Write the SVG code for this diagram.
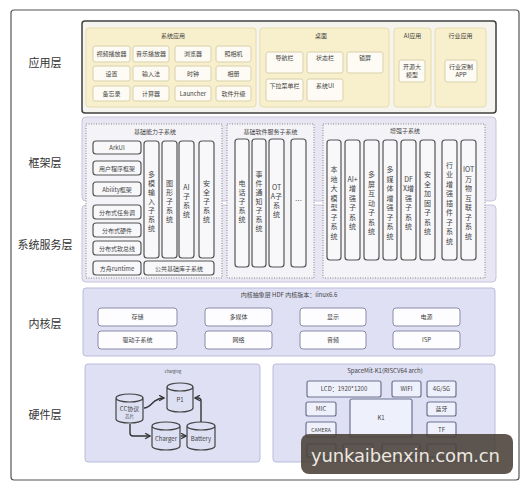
<svg xmlns="http://www.w3.org/2000/svg" width="529" height="491" viewBox="0 0 529 491">
<defs>
<style>
text{font-family:'Noto Sans CJK SC','Noto Sans',sans-serif;fill:#444;text-anchor:middle}
.lbl{font-size:11px;fill:#333}
.app{fill:#f8f0cc;stroke:#e6dcae;stroke-width:1}
.ai{fill:#fdfbf3;stroke:#d9d0ac;stroke-width:1}
.t6{font-size:6px}
.t7{font-size:7px}
.fw{fill:#e9e6f3;stroke:#c9c4dc;stroke-width:1}
.dot{fill:#f4f3f8;stroke:#888;stroke-width:1;stroke-dasharray:1 1.5}
.col{fill:#f8f8fb;stroke:#555;stroke-width:1.2}
.kp{fill:#dfe0f4;stroke:#b9bbdb;stroke-width:1}
.kb{fill:#fdfdff;stroke:#8a8ca8;stroke-width:1}
.cyl{fill:#dde0f3;stroke:#444;stroke-width:1.2}
.hb{fill:#eef0fb;stroke:#6e7290;stroke-width:1.2}
.conn{fill:none;stroke:#333;stroke-width:1.4;marker-end:url(#ah)}
</style>
<marker id="ah" viewBox="0 0 10 10" refX="8" refY="5" markerWidth="5" markerHeight="5" orient="auto"><path d="M1,1 L8,5 L1,9" fill="none" stroke="#333" stroke-width="1.8"/></marker>
</defs>
<rect x="0" y="0" width="529" height="491" fill="#ffffff"/>
<rect x="11" y="10" width="508" height="470" rx="3" fill="none" stroke="#555" stroke-width="1.2"/>

<g id="layer-labels">
<text class="lbl" x="45" y="67">应用层</text>
<text class="lbl" x="45" y="167">框架层</text>
<text class="lbl" x="45" y="249">系统服务层</text>
<text class="lbl" x="45" y="328">内核层</text>
<text class="lbl" x="45" y="419">硬件层</text>
</g>

<g id="app-layer">
<rect x="82" y="21" width="414" height="92" rx="3" fill="#f5f4ee" stroke="#3f3f3f" stroke-width="1.5"/>
<g id="sys-apps">
<rect class="app" x="86" y="28" width="170" height="79" rx="3"/>
<text class="t6" x="173" y="38">系统应用</text>
<rect class="ai" x="93" y="46" width="37" height="16" rx="2"/><text class="t6" x="111.5" y="56">视频播放器</text>
<rect class="ai" x="133" y="46" width="36" height="16" rx="2"/><text class="t6" x="151" y="56">音乐播放器</text>
<rect class="ai" x="175" y="46" width="36" height="16" rx="2"/><text class="t6" x="193" y="56">浏览器</text>
<rect class="ai" x="216" y="46" width="35" height="16" rx="2"/><text class="t6" x="233.5" y="56">照相机</text>
<rect class="ai" x="93" y="66" width="37" height="15" rx="2"/><text class="t6" x="111.5" y="75.5">设置</text>
<rect class="ai" x="133" y="66" width="36" height="15" rx="2"/><text class="t6" x="151" y="75.5">输入法</text>
<rect class="ai" x="175" y="66" width="36" height="15" rx="2"/><text class="t6" x="193" y="75.5">时钟</text>
<rect class="ai" x="216" y="66" width="35" height="15" rx="2"/><text class="t6" x="233.5" y="75.5">相册</text>
<rect class="ai" x="93" y="86" width="37" height="15" rx="2"/><text class="t6" x="111.5" y="95.5">备忘录</text>
<rect class="ai" x="133" y="86" width="36" height="15" rx="2"/><text class="t6" x="151" y="95.5">计算器</text>
<rect class="ai" x="175" y="86" width="36" height="15" rx="2"/><text class="t6" x="193" y="95.5">Launcher</text>
<rect class="ai" x="216" y="86" width="35" height="15" rx="2"/><text class="t6" x="233.5" y="95.5">软件升级</text>
</g>
<g id="desktop">
<rect class="app" x="260" y="28" width="129" height="79" rx="3"/>
<text class="t6" x="321" y="38">桌面</text>
<rect class="ai" x="266" y="52" width="37" height="21" rx="2"/><text class="t6" x="284.5" y="60">导航栏</text>
<rect class="ai" x="307" y="52" width="36" height="21" rx="2"/><text class="t6" x="325" y="60">状态栏</text>
<rect class="ai" x="347" y="52" width="36" height="21" rx="2"/><text class="t6" x="365" y="60">锁屏</text>
<rect class="ai" x="266" y="79" width="37" height="22" rx="2"/><text class="t6" x="284.5" y="88">下拉菜单栏</text>
<rect class="ai" x="307" y="79" width="36" height="22" rx="2"/><text class="t6" x="325" y="88">系统UI</text>
</g>
<g id="ai-apps">
<rect class="app" x="394" y="28" width="37" height="79" rx="3"/>
<text class="t6" x="412.5" y="38">AI应用</text>
<rect class="ai" x="399" y="60" width="26" height="22" rx="2"/>
<text class="t6" x="412" y="69">开源大</text><text class="t6" x="412" y="77">模型</text>
</g>
<g id="industry-apps">
<rect class="app" x="435" y="28" width="51" height="79" rx="3"/>
<text class="t6" x="460.5" y="38">行业应用</text>
<rect class="ai" x="445" y="60" width="32" height="22" rx="2"/>
<text class="t6" x="461" y="69">行业定制</text><text class="t6" x="461" y="77">APP</text>
</g>
</g>

<g id="framework-service">
<rect class="fw" x="82" y="117" width="414" height="84" rx="4"/>
<rect class="fw" x="82" y="205" width="414" height="77" rx="4"/>

<g id="basic-capability">
<rect class="dot" x="86" y="124" width="136" height="154"/>
<text class="t6" x="155" y="134">基础能力子系统</text>
<g class="t6">
<rect class="col" x="93" y="141" width="48" height="13" rx="3"/><text class="t6" x="117" y="150">ArkUI</text>
<rect class="col" x="93" y="161" width="48" height="14" rx="3"/><text class="t6" x="117" y="170.5">用户程序框架</text>
<rect class="col" x="93" y="182" width="48" height="14" rx="3"/><text class="t6" x="117" y="191.5">Ability框架</text>
<rect class="col" x="93" y="205" width="48" height="14" rx="3"/><text class="t6" x="117" y="214.5">分布式任务调</text>
<rect class="col" x="93" y="223" width="48" height="14" rx="3"/><text class="t6" x="117" y="232.5">分布式硬件</text>
<rect class="col" x="93" y="241" width="48" height="14" rx="3"/><text class="t6" x="117" y="250.5">分布式软总线</text>
<rect class="col" x="93" y="261" width="48" height="14" rx="3"/><text class="t6" x="117" y="270.5">方舟runtime</text>
</g>
<rect class="col" x="144" y="141" width="15" height="117" rx="3"/>
<text class="t7" x="151.5" y="176.5"><tspan x="151.5">多</tspan><tspan x="151.5" dy="9">模</tspan><tspan x="151.5" dy="9">输</tspan><tspan x="151.5" dy="9">入</tspan><tspan x="151.5" dy="9">子</tspan><tspan x="151.5" dy="9">系</tspan><tspan x="151.5" dy="9">统</tspan></text>
<rect class="col" x="162" y="141" width="15" height="117" rx="3"/>
<text class="t7" x="169.5" y="185.5"><tspan x="169.5">图</tspan><tspan x="169.5" dy="9">形</tspan><tspan x="169.5" dy="9">子</tspan><tspan x="169.5" dy="9">系</tspan><tspan x="169.5" dy="9">统</tspan></text>
<rect class="col" x="179" y="141" width="15" height="117" rx="3"/>
<text class="t7" x="186.5" y="190"><tspan x="186.5">AI</tspan><tspan x="186.5" dy="9">子</tspan><tspan x="186.5" dy="9">系</tspan><tspan x="186.5" dy="9">统</tspan></text>
<rect class="col" x="199" y="141" width="15" height="117" rx="3"/>
<text class="t7" x="206.5" y="185.5"><tspan x="206.5">安</tspan><tspan x="206.5" dy="9">全</tspan><tspan x="206.5" dy="9">子</tspan><tspan x="206.5" dy="9">系</tspan><tspan x="206.5" dy="9">统</tspan></text>
<rect class="col" x="144" y="261" width="70" height="14" rx="3"/><text class="t6" x="179" y="270.5">公共基础库子系统</text>
</g>

<g id="basic-software-service">
<rect class="dot" x="227" y="124" width="87" height="154"/>
<text class="t6" x="270.5" y="134">基础软件服务子系统</text>
<rect class="col" x="235" y="139" width="14" height="128" rx="3"/>
<text class="t7" x="242" y="185.5"><tspan x="242">电</tspan><tspan x="242" dy="9">话</tspan><tspan x="242" dy="9">子</tspan><tspan x="242" dy="9">系</tspan><tspan x="242" dy="9">统</tspan></text>
<rect class="col" x="252" y="139" width="14" height="128" rx="3"/>
<text class="t7" x="259" y="176.5"><tspan x="259">事</tspan><tspan x="259" dy="9">件</tspan><tspan x="259" dy="9">通</tspan><tspan x="259" dy="9">知</tspan><tspan x="259" dy="9">子</tspan><tspan x="259" dy="9">系</tspan><tspan x="259" dy="9">统</tspan></text>
<rect class="col" x="269" y="139" width="15" height="128" rx="3"/>
<text class="t7" x="276.5" y="190"><tspan x="276.5">OT</tspan><tspan x="276.5" dy="9">A子</tspan><tspan x="276.5" dy="9">系</tspan><tspan x="276.5" dy="9">统</tspan></text>
<rect class="col" x="291" y="139" width="15" height="128" rx="3"/>
<text class="t7" x="298.5" y="203">…</text>
</g>

<g id="enhanced">
<rect class="dot" x="323" y="124" width="162" height="154"/>
<text class="t6" x="405" y="133">增强子系统</text>
<rect class="col" x="327" y="140" width="14" height="120" rx="3"/>
<text class="t7" x="334" y="172.25"><tspan x="334">本</tspan><tspan x="334" dy="9.5">地</tspan><tspan x="334" dy="9.5">大</tspan><tspan x="334" dy="9.5">模</tspan><tspan x="334" dy="9.5">型</tspan><tspan x="334" dy="9.5">子</tspan><tspan x="334" dy="9.5">系</tspan><tspan x="334" dy="9.5">统</tspan></text>
<rect class="col" x="345" y="140" width="15" height="120" rx="3"/>
<text class="t7" x="352.5" y="181.75"><tspan x="352.5">AI+</tspan><tspan x="352.5" dy="9.5">增</tspan><tspan x="352.5" dy="9.5">强</tspan><tspan x="352.5" dy="9.5">子</tspan><tspan x="352.5" dy="9.5">系</tspan><tspan x="352.5" dy="9.5">统</tspan></text>
<rect class="col" x="364" y="140" width="15" height="120" rx="3"/>
<text class="t7" x="371.5" y="177"><tspan x="371.5">多</tspan><tspan x="371.5" dy="9.5">屏</tspan><tspan x="371.5" dy="9.5">互</tspan><tspan x="371.5" dy="9.5">动</tspan><tspan x="371.5" dy="9.5">子</tspan><tspan x="371.5" dy="9.5">系</tspan><tspan x="371.5" dy="9.5">统</tspan></text>
<rect class="col" x="383" y="140" width="14" height="120" rx="3"/>
<text class="t7" x="390" y="172.25"><tspan x="390">多</tspan><tspan x="390" dy="9.5">媒</tspan><tspan x="390" dy="9.5">体</tspan><tspan x="390" dy="9.5">增</tspan><tspan x="390" dy="9.5">强</tspan><tspan x="390" dy="9.5">子</tspan><tspan x="390" dy="9.5">系</tspan><tspan x="390" dy="9.5">统</tspan></text>
<rect class="col" x="401" y="140" width="15" height="120" rx="3"/>
<text class="t7" x="408.5" y="181.75"><tspan x="408.5">DF</tspan><tspan x="408.5" dy="9.5">X增</tspan><tspan x="408.5" dy="9.5">强</tspan><tspan x="408.5" dy="9.5">子</tspan><tspan x="408.5" dy="9.5">系</tspan><tspan x="408.5" dy="9.5">统</tspan></text>
<rect class="col" x="420" y="140" width="15" height="120" rx="3"/>
<text class="t7" x="427.5" y="177"><tspan x="427.5">安</tspan><tspan x="427.5" dy="9.5">全</tspan><tspan x="427.5" dy="9.5">加</tspan><tspan x="427.5" dy="9.5">固</tspan><tspan x="427.5" dy="9.5">子</tspan><tspan x="427.5" dy="9.5">系</tspan><tspan x="427.5" dy="9.5">统</tspan></text>
<rect class="col" x="442" y="140" width="15" height="120" rx="3"/>
<text class="t7" x="449.5" y="167.5"><tspan x="449.5">行</tspan><tspan x="449.5" dy="9.5">业</tspan><tspan x="449.5" dy="9.5">增</tspan><tspan x="449.5" dy="9.5">强</tspan><tspan x="449.5" dy="9.5">插</tspan><tspan x="449.5" dy="9.5">件</tspan><tspan x="449.5" dy="9.5">子</tspan><tspan x="449.5" dy="9.5">系</tspan><tspan x="449.5" dy="9.5">统</tspan></text>
<rect class="col" x="461" y="140" width="15" height="120" rx="3"/>
<text class="t7" x="468.5" y="172.25"><tspan x="468.5">IOT</tspan><tspan x="468.5" dy="9.5">万</tspan><tspan x="468.5" dy="9.5">物</tspan><tspan x="468.5" dy="9.5">互</tspan><tspan x="468.5" dy="9.5">联</tspan><tspan x="468.5" dy="9.5">子</tspan><tspan x="468.5" dy="9.5">系</tspan><tspan x="468.5" dy="9.5">统</tspan></text>
</g>
</g>

<g id="kernel-layer">
<rect class="kp" x="83" y="288" width="412" height="68" rx="3"/>
<text class="t6" x="289" y="297">内核抽象层  HDF   内核版本：linux6.6</text>
<rect class="kb" x="98" y="308" width="79" height="18" rx="3"/><text class="t6" x="137.5" y="319">存储</text>
<rect class="kb" x="205" y="308" width="67" height="18" rx="3"/><text class="t6" x="238.5" y="319">多媒体</text>
<rect class="kb" x="300" y="308" width="66" height="18" rx="3"/><text class="t6" x="333" y="319">显示</text>
<rect class="kb" x="393" y="308" width="67" height="18" rx="3"/><text class="t6" x="426.5" y="319">电源</text>
<rect class="kb" x="98" y="331" width="79" height="18" rx="3"/><text class="t6" x="137.5" y="342">驱动子系统</text>
<rect class="kb" x="205" y="331" width="67" height="18" rx="3"/><text class="t6" x="238.5" y="342">网络</text>
<rect class="kb" x="300" y="331" width="66" height="18" rx="3"/><text class="t6" x="333" y="342">音频</text>
<rect class="kb" x="393" y="331" width="67" height="18" rx="3"/><text class="t6" x="426.5" y="342">ISP</text>
</g>

<g id="hardware-layer">
<g id="charging-panel">
<rect class="kp" x="85" y="364" width="175" height="98" rx="3" stroke="#8f92b0"/>
<text x="173" y="373" style="font-size:4px">charging</text>
</g>
<g id="cyl-p1"><path class="cyl" d="M167,387 a13,4 0 0,1 26,0 v21 a13,4 0 0,1 -26,0 z M167,387 a13,4 0 0,0 26,0"/><text class="t6" x="180" y="402">P1</text></g>
<g id="cyl-cc"><path class="cyl" d="M116,398 a13.5,4 0 0,1 27,0 v21 a13.5,4 0 0,1 -27,0 z M116,398 a13.5,4 0 0,0 27,0"/><text class="t6" x="129.5" y="411">CC协议</text><text x="129.5" y="418" style="font-size:4.5px">芯片</text></g>
<g id="cyl-charger"><path class="cyl" d="M152,426 a14,4 0 0,1 28,0 v20 a14,4 0 0,1 -28,0 z M152,426 a14,4 0 0,0 28,0"/><text class="t6" x="166" y="441">Charger</text></g>
<g id="cyl-battery"><path class="cyl" d="M187,426 a14,4 0 0,1 28,0 v20 a14,4 0 0,1 -28,0 z M187,426 a14,4 0 0,0 28,0"/><text class="t6" x="201" y="441">Battery</text></g>

<g id="soc-panel">
<rect class="kp" x="273" y="364" width="222" height="98" rx="3" stroke="#8f92b0"/>
<text class="t6" x="385" y="373">SpaceMit-K1(RISCV64 arch)</text>
<rect class="hb" x="307" y="381" width="74" height="16" rx="2"/><text class="t6" x="344" y="391">LCD：1920*1200</text>
<rect class="hb" x="392" y="381" width="29" height="16" rx="2"/><text class="t6" x="406.5" y="391">WIFI</text>
<rect class="hb" x="427" y="381" width="29" height="16" rx="2"/><text class="t6" x="441.5" y="391">4G/5G</text>
<rect class="hb" x="306" y="402" width="30" height="14" rx="2"/><text class="t6" x="321" y="411">MIC</text>
<rect class="hb" x="350" y="399" width="62" height="38" rx="2" fill="#fbfbff"/><text class="t6" x="381" y="420">K1</text>
<rect class="hb" x="427" y="402" width="29" height="14" rx="2"/><text class="t6" x="441.5" y="411">蓝牙</text>
<rect class="hb" x="306" y="422" width="30" height="15" rx="2"/><text x="321" y="431.5" style="font-size:5px">CAMERA</text>
<rect class="hb" x="427" y="422" width="29" height="15" rx="2"/><text class="t6" x="441.5" y="431.5">TF</text>
<rect class="hb" x="307" y="444" width="29" height="13" rx="2"/>
<rect class="hb" x="343" y="444" width="30" height="13" rx="2"/>
<rect class="hb" x="382" y="444" width="38" height="13" rx="2"/>
<rect class="hb" x="427" y="444" width="29" height="13" rx="2"/>
</g>
</g>

<g id="connectors">
<path class="conn" d="M144,408 C152,408 152,398 164,398"/>
<path class="conn" d="M130,424 V433 Q130,436 133,436 H150"/>
<path class="conn" d="M181,436 H186"/>
<path class="conn" d="M201,422 V401 Q201,398 198,398 H195"/>
</g>

<g id="watermark">
<rect x="301" y="434" width="212" height="40" rx="8" fill="#4a4038" fill-opacity="0.88"/>
<text x="405.5" y="462" style="font-family:'DejaVu Sans',sans-serif;font-size:18px;fill:#ece8e0" textLength="189">yunkaibenxin.com.cn</text>
</g>
</svg>
